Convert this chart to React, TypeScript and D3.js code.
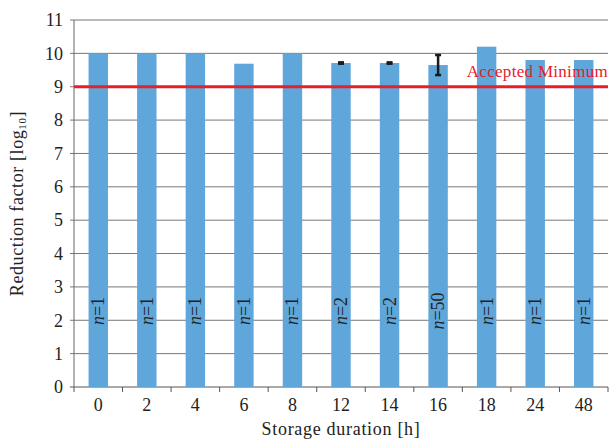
import React from "react";
import * as d3 from "d3";

const categories = ["0", "2", "4", "6", "8", "12", "14", "16", "18", "24", "48"];
const values = [10, 10, 10, 9.69, 10, 9.71, 9.71, 9.65, 10.2, 9.8, 9.8];
const errors = [0, 0, 0, 0, 0, 0.02, 0.02, 0.3, 0, 0, 0];
const nLabels = ["1", "1", "1", "1", "1", "2", "2", "50", "1", "1", "1"];
const yTicks = [0, 1, 2, 3, 4, 5, 6, 7, 8, 9, 10, 11];
const minimum = 9;

const W = 611, H = 441;
const m = { left: 74, right: 3, top: 20, bottom: 54 };
const font = "'Liberation Serif', 'DejaVu Serif', serif";

export default function App() {
  const x = d3.scaleBand().domain(categories).range([m.left, W - m.right]).paddingInner(0.6).paddingOuter(0.3);
  const xb = d3.scaleBand().domain(categories).range([m.left, W - m.right]);
  const y = d3.scaleLinear().domain([0, 11]).range([H - m.bottom, m.top]);
  const y0 = y(0);
  return (
    <svg width={W} height={H} style={{ position: "absolute", left: 0, top: 0, background: "#fff" }} fontFamily={font}>
      {yTicks.map((t) => (
        <g key={t}>
          <line x1={m.left - 4} x2={W - m.right} y1={y(t)} y2={y(t)} stroke={t === 0 ? "#555" : "#777"} strokeWidth={1} />
          <text x={m.left - 11} y={y(t)} dy="0.35em" textAnchor="end" fontSize={18} fill="#222">{t}</text>
        </g>
      ))}
      {categories.map((c, i) => (
        <rect key={c} x={x(c)} y={y(values[i])} width={x.bandwidth()} height={y0 - y(values[i])} fill="#5fa6da" />
      ))}
      <line x1={m.left} x2={m.left} y1={y(11)} y2={y0} stroke="#666" strokeWidth={1} />
      {categories.map((c) => (
        <line key={"t" + c} x1={xb(c)} x2={xb(c)} y1={y0} y2={y0 + 5} stroke="#555" />
      ))}
      <line x1={W - m.right} x2={W - m.right} y1={y0} y2={y0 + 5} stroke="#555" />
      {categories.map((c) => (
        <text key={"l" + c} x={xb(c)! + xb.bandwidth() / 2} y={y0 + 24} textAnchor="middle" fontSize={18} fill="#222">{c}</text>
      ))}
      <line x1={m.left} x2={W - m.right} y1={y(minimum)} y2={y(minimum)} stroke="#e5202a" strokeWidth={3} />
      <text x={W - m.right} y={y(minimum) - 9.5} textAnchor="end" fontSize={17} letterSpacing={0.3} fill="#e5202a">Accepted Minimum</text>
      {categories.map((c, i) => {
        if (!errors[i]) return null;
        const cx = x(c)! + x.bandwidth() / 2;
        const t = y(values[i] + errors[i]), b = y(values[i] - errors[i]);
        return (
          <g key={"e" + c} stroke="#1a1a1a">
            <line x1={cx} x2={cx} y1={t} y2={b} strokeWidth={2.5} />
            <line x1={cx - 3} x2={cx + 3} y1={t} y2={t} strokeWidth={2.5} />
            <line x1={cx - 3} x2={cx + 3} y1={b} y2={b} strokeWidth={2.5} />
          </g>
        );
      })}
      {categories.map((c, i) => {
        const cx = x(c)! + x.bandwidth() / 2;
        return (
          <text key={"n" + c} transform={`translate(${cx + 6},311) rotate(-90)`} textAnchor="middle" fontSize={18} fill="#222">
            <tspan fontStyle="italic">n</tspan>={nLabels[i]}
          </text>
        );
      })}
      <text transform={`translate(23,${(y(11) + y0) / 2}) rotate(-90)`} textAnchor="middle" fontSize={18} letterSpacing={0.6} fill="#222">
        Reduction factor [log<tspan fontSize={11} dy={3}>10</tspan><tspan dy={-3}>]</tspan>
      </text>
      <text x={(m.left + W - m.right) / 2} y={H - 6} textAnchor="middle" fontSize={18} letterSpacing={0.7} fill="#222">Storage duration [h]</text>
    </svg>
  );
}
